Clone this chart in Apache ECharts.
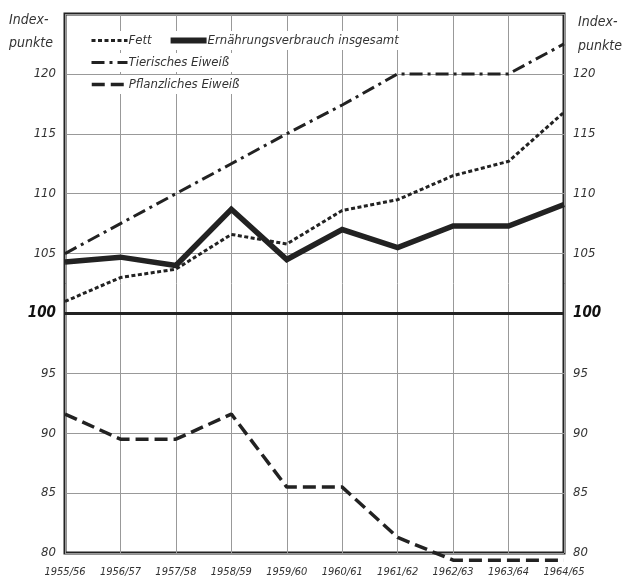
<!DOCTYPE html>
<html>
<head>
<meta charset="utf-8">
<script src="https://cdn.jsdelivr.net/npm/echarts@6/dist/echarts.min.js"></script>
<style type="text/css">
html, body {margin: 0; padding: 0; background: #fff;}
#chart {width: 622px; height: 582px;}
</style>
</head>
<body>
<div id="chart"></div>
<script>
// Wirtschaftsjahre
var years = ['1955/56', '1956/57', '1957/58', '1958/59', '1959/60', '1960/61', '1961/62', '1962/63', '1963/64', '1964/65'];
// Indexpunkte je Reihe
var fett = [101.0, 103.0, 103.7, 106.6, 105.8, 108.6, 109.5, 111.5, 112.7, 116.8];
var gesamt = [104.3, 104.7, 104.0, 108.7, 104.5, 107.0, 105.5, 107.3, 107.3, 109.1];
var tierisch = [105.0, 107.5, 110.0, 112.5, 115.0, 117.4, 120.0, 120.0, 120.0, 122.5];
var pflanzlich = [91.6, 89.5, 89.5, 91.6, 85.5, 85.5, 81.3, 79.4, 79.4, 79.4];
var yTicks = [80, 85, 90, 95, 100, 105, 110, 115, 120];

var ink = '#222';
var font = 'DejaVu Sans Condensed';

// Linienarten (auch fuer die Legende)
var styFett = {color: ink, width: 3, type: [4, 2.5]};
var styGesamt = {color: ink, width: 5.5, type: 'solid', join: 'miter'};
var styTier = {color: ink, width: 3, type: [13, 5, 3, 5]};
var styPflanz = {color: ink, width: 3.5, type: [13, 6]};

function tickLabel(v) {
    if (yTicks.indexOf(v) < 0) return '';
    return v === 100 ? '{b|100}' : String(v);
}

var labelStyle = {
    fontFamily: font, fontStyle: 'italic', fontSize: 13, color: '#333',
    formatter: tickLabel,
    rich: {b: {fontFamily: font, fontStyle: 'italic', fontWeight: 'bold', fontSize: 15, color: '#111'}}
};

var legendBase = {
    left: 86, itemWidth: 36, itemHeight: 10, itemGap: 16,
    backgroundColor: '#fff', padding: [3, 4],
    itemStyle: {color: 'rgba(0,0,0,0)', borderWidth: 0, opacity: 0},
    textStyle: {fontFamily: font, fontStyle: 'italic', fontSize: 13, color: '#333', padding: [0, 0, 0, -4]}
};

function leg(top, items) {
    return Object.assign({top: top, data: items}, legendBase);
}

var options = {
    animation: false,
    backgroundColor: '#fff',
    grid: {left: 65, right: 58, top: 14, bottom: 29, show: true, borderColor: ink, borderWidth: 3, backgroundColor: 'transparent'},
    legend: [
        leg(31, [{name: 'Fett', lineStyle: styFett}, {name: 'Ernährungsverbrauch insgesamt', lineStyle: {color: ink, width: 6, type: 'solid'}}]),
        leg(53, [{name: 'Tierisches Eiweiß', lineStyle: styTier}]),
        leg(75, [{name: 'Pflanzliches Eiweiß', lineStyle: styPflanz}])
    ],
    xAxis: {
        type: 'category', boundaryGap: false, data: years,
        axisLine: {show: false}, axisTick: {show: false},
        axisLabel: {fontFamily: font, fontStyle: 'italic', fontSize: 11, color: '#333', margin: 14, interval: 0},
        splitLine: {show: true, interval: 0, lineStyle: {color: '#999', width: 1}}
    },
    yAxis: [
        {type: 'value', min: 80, max: 125, interval: 5,
         axisLine: {show: false}, axisTick: {show: false},
         axisLabel: Object.assign({margin: 9}, labelStyle),
         splitLine: {lineStyle: {color: '#999', width: 1}}},
        {type: 'value', min: 80, max: 125, interval: 5, position: 'right',
         axisLine: {show: false}, axisTick: {show: false},
         axisLabel: Object.assign({margin: 9}, labelStyle),
         splitLine: {show: false}}
    ],
    graphic: [
        {type: 'text', left: 9, top: 9, style: {text: 'Index-\npunkte', fontFamily: font, fontStyle: 'italic', fontSize: 14, lineHeight: 23, fill: '#333'}},
        {type: 'text', left: 578, top: 10, style: {text: 'Index-\npunkte', fontFamily: font, fontStyle: 'italic', fontSize: 14, lineHeight: 24, fill: '#333'}}
    ],
    series: [
        {name: 'Fett', type: 'line', data: fett, symbol: 'none', z: 3,
         lineStyle: styFett, itemStyle: {color: ink}},
        {name: 'Ernährungsverbrauch insgesamt', type: 'line', data: gesamt, symbol: 'none', z: 4,
         lineStyle: styGesamt, itemStyle: {color: ink},
         markLine: {silent: true, symbol: 'none', label: {show: false},
                    lineStyle: {color: ink, width: 3, type: 'solid'}, data: [{yAxis: 100}]}},
        {name: 'Tierisches Eiweiß', type: 'line', data: tierisch, symbol: 'none', z: 3,
         lineStyle: styTier, itemStyle: {color: ink}},
        {name: 'Pflanzliches Eiweiß', type: 'line', data: pflanzlich, symbol: 'none', z: 3, clip: false,
         lineStyle: styPflanz, itemStyle: {color: ink}}
    ]
};

var myChart = echarts.init(document.getElementById('chart'));
myChart.setOption(options);
</script>
</body>
</html>
